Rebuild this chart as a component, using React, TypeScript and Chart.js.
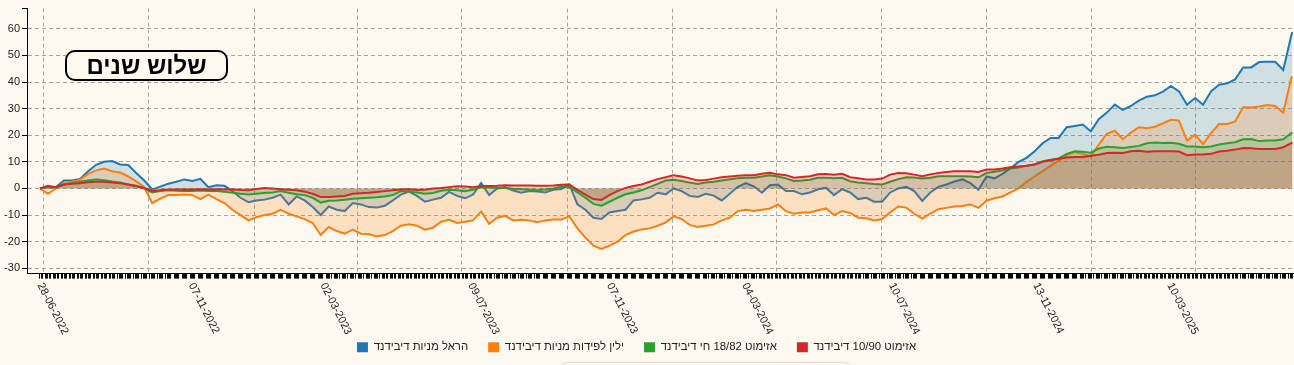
import React, { useEffect, useRef } from "react";
import { Chart, registerables } from "chart.js";

Chart.register(...registerables);

const startDate = "2022-06-28";

const dates = [
  "2022-06-28", "2022-07-05", "2022-07-12", "2022-07-19", "2022-07-26", "2022-08-02", "2022-08-09", "2022-08-16", "2022-08-23", "2022-08-30",
  "2022-09-06", "2022-09-13", "2022-09-20", "2022-09-27", "2022-10-04", "2022-10-11", "2022-10-18", "2022-10-25", "2022-11-01", "2022-11-08",
  "2022-11-15", "2022-11-22", "2022-11-29", "2022-12-06", "2022-12-13", "2022-12-20", "2022-12-27",
  "2023-01-03", "2023-01-10", "2023-01-17", "2023-01-24", "2023-01-31", "2023-02-07", "2023-02-14", "2023-02-21", "2023-02-28", "2023-03-07",
  "2023-03-14", "2023-03-21", "2023-03-28", "2023-04-04", "2023-04-11", "2023-04-18", "2023-04-25", "2023-05-02", "2023-05-09", "2023-05-16",
  "2023-05-23", "2023-05-30", "2023-06-06", "2023-06-13", "2023-06-20", "2023-06-27", "2023-07-04", "2023-07-11", "2023-07-18", "2023-07-25",
  "2023-08-01", "2023-08-08", "2023-08-15", "2023-08-22", "2023-08-29", "2023-09-05", "2023-09-12", "2023-09-19", "2023-09-26", "2023-10-03",
  "2023-10-10", "2023-10-17", "2023-10-24", "2023-10-31", "2023-11-07", "2023-11-14", "2023-11-21", "2023-11-28", "2023-12-05", "2023-12-12",
  "2023-12-19", "2023-12-26",
  "2024-01-02", "2024-01-09", "2024-01-16", "2024-01-23", "2024-01-30", "2024-02-06", "2024-02-13", "2024-02-20", "2024-02-27", "2024-03-05",
  "2024-03-12", "2024-03-19", "2024-03-26", "2024-04-02", "2024-04-09", "2024-04-16", "2024-04-23", "2024-04-30", "2024-05-07", "2024-05-14",
  "2024-05-21", "2024-05-28", "2024-06-04", "2024-06-11", "2024-06-18", "2024-06-25", "2024-07-02", "2024-07-09", "2024-07-16", "2024-07-23",
  "2024-07-30", "2024-08-06", "2024-08-13", "2024-08-20", "2024-08-27", "2024-09-03", "2024-09-10", "2024-09-17", "2024-09-24", "2024-10-01",
  "2024-10-08", "2024-10-15", "2024-10-22", "2024-10-29", "2024-11-05", "2024-11-12", "2024-11-19", "2024-11-26", "2024-12-03", "2024-12-10",
  "2024-12-17", "2024-12-24", "2024-12-31",
  "2025-01-07", "2025-01-14", "2025-01-21", "2025-01-28", "2025-02-04", "2025-02-11", "2025-02-18", "2025-02-25", "2025-03-04", "2025-03-11",
  "2025-03-18", "2025-03-25", "2025-04-01", "2025-04-08", "2025-04-15", "2025-04-22", "2025-04-29", "2025-05-06", "2025-05-13", "2025-05-20",
  "2025-05-27", "2025-06-03", "2025-06-10", "2025-06-17", "2025-06-24", "2025-06-25",
];

const harelDividend = [
  0, 0.5, 0.5, 3, 3, 3.6, 6.5, 8.9, 10, 10.3,
  9, 8.8, 5.8, 3, -0.4, 0.7, 1.8, 2.5, 3.4, 2.8,
  3.6, 0.5, 1.2, 1, -1, -3.5, -5.2, -4.5, -4.2, -3.5,
  -2.3, -6, -3, -4.5, -7, -10, -6.8, -8, -8.5, -5.5,
  -6, -7, -7.2, -6.5, -4.5, -2.3, -1.2, -2.8, -5, -4.2,
  -3.5, -1.3, -2.8, -3.7, -2.3, 2, -2.5, 0, 0.4, -0.8,
  -1.6, -1, -1.1, -1.5, -0.5, -0.2, 1.5, -6, -8, -11,
  -11.5, -9, -8.5, -8, -4.5, -4.1, -3.5, -1.6, -2.2, 0,
  -1, -2.8, -3.2, -2, -2.7, -4.5, -2, 0.6, 2, 0.8,
  -1.6, 1.2, 1.5, -1, -1, -2.2, -1.5, -0.3, 0.2, -2.5,
  -0.3, -1.5, -4, -3.5, -5, -5, -1.5, 0, 0.6, -1,
  -4.7, -1.5, 0.6, 1.5, 2.6, 3.4, 2, -0.5, 4.5, 3.8,
  5.5, 7.6, 10, 11.5, 14, 17, 19, 19, 23, 23.5,
  24, 21.5, 26, 28.5, 31.5, 29.5, 31, 33, 34.5, 35,
  36.4, 38.5, 36.5, 31.5, 34, 31.5, 36.5, 39, 39.5, 41,
  45.5, 45.5, 47.5, 47.6, 47.6, 44.5, 57.5, 58.8,
];

const yelinDividend = [
  0, -2, 0, 2, 2.5, 3.3, 5.5, 6.8, 7.5, 6.5,
  6, 4.5, 2.7, 0.5, -5.5, -3.8, -2.5, -2.5, -2.3, -2.5,
  -4, -2.3, -4, -5.5, -8, -10, -12, -10.8, -10, -9.5,
  -8, -9.5, -10.5, -11.5, -13, -17.5, -14.5, -16, -17, -15.5,
  -17, -17.2, -18, -17.5, -16, -14, -13.5, -14, -15.5, -14.8,
  -12.5, -11.8, -13, -12.5, -12, -8.7, -13.3, -11, -10.3, -12,
  -11.8, -12, -12.7, -12, -11.7, -11.7, -10.5, -15, -18.5, -21.5,
  -22.7, -21.5, -20, -17.5, -16.2, -15.4, -15, -14, -12.8, -10.5,
  -11.5, -13.7, -14.5, -14, -13.5, -12, -11, -8.5, -8, -8.5,
  -8, -7.5, -6, -8.5, -9.5, -9, -9, -8.2, -7.5, -10,
  -8.5, -9.2, -11, -11.2, -12, -11.5, -9, -6.8, -7.2, -9.5,
  -11.3, -9.5, -7.8, -7.3, -6.8, -6.6, -6, -7.3, -4.6, -3.7,
  -3, -1.5, 0, 2.5, 4.5, 6.5, 8.5, 10.5, 12.5, 13.8,
  13, 12, 16.5, 20.5, 21.7, 18.5, 21, 23, 22.6, 23.2,
  24.5, 25.8, 25.5, 18, 20.2, 16.7, 20.8, 24.2, 24.2, 25.2,
  30.5, 30.4, 30.8, 31.4, 31, 28.5, 41.5, 42,
];

const azimut1882 = [
  0, 0.5, 0.5, 1.5, 2, 2.5, 3, 3.4, 3.1, 2.6,
  2.2, 1.5, 1, 0, -1.5, -1, -0.7, -0.9, -1, -1,
  -0.8, -1, -1, -1.2, -1.6, -2, -2.3, -2, -1.7, -1.5,
  -1, -1.6, -2.2, -2.5, -3.5, -5.3, -4.6, -4.5, -4.2, -3.9,
  -3.7, -3.5, -3.3, -3, -2.5, -1, -1.2, -1.5, -2, -1.7,
  -0.9, -0.5, -0.7, -1, -0.5, 0.4, 0.5, 0.3, 0.2, -0.1,
  -0.3, -0.5, -0.7, -0.4, 0, 0.6, 0.7, -1.5, -3.5, -5.8,
  -6.5, -5, -3.5, -2.2, -1.5, -0.7, 0.5, 1.7, 3, 3.3,
  2.8, 2.2, 1.7, 2.2, 2.5, 3, 3.5, 3.8, 4, 4,
  4.5, 5, 4.5, 3.8, 2.8, 3, 3.3, 4, 4, 3.8,
  4, 2.7, 2.2, 2, 1.7, 1.5, 2.5, 3.5, 4.2, 4.1,
  3.7, 4, 4.6, 4.6, 4.6, 4.6, 4.5, 4.2, 5.8, 6.3,
  6.8, 7.5, 7.9, 8.5, 9, 10.2, 10.8, 11.3, 13, 14,
  13.8, 13.4, 15, 15.7, 15.5, 15.2, 15.6, 16, 17, 17.3,
  17.1, 17.2, 16.8, 15.8, 15.8, 15.5, 15.8, 16.5, 17, 17.4,
  18.5, 18.6, 17.8, 18, 18, 18.5, 20.8, 21,
];

const azimut1090 = [
  0, 1, 0.5, 1.5, 1.8, 2, 2.3, 2.5, 2.5, 2.2,
  2, 1.5, 0.8, 0.2, -1, -0.7, -0.5, -0.4, -0.4, -0.4,
  -0.3, -0.4, -0.3, -0.4, -0.4, -0.6, -0.7, -0.2, 0.2, 0,
  -0.3, -0.5, -0.7, -1.2, -2, -3.2, -3.2, -3, -2.8, -2,
  -1.8, -1.6, -1.3, -1, -0.7, -0.4, -0.3, -0.6, -0.5, 0,
  0.2, 0.5, 0.8, 0.7, 0.5, 0.9, 0.9, 1, 1.2, 1.1,
  1.1, 1.1, 1, 1, 1.1, 1.4, 1.5, -0.5, -2.3, -4,
  -4.3, -2.5, -1, 0.2, 0.9, 1.5, 2.5, 3.5, 4.2, 5,
  4.5, 3.8, 3, 3.2, 3.7, 4.2, 4.5, 4.8, 5, 5,
  5.5, 5.9, 5.3, 5, 4, 4.3, 4.6, 5.3, 5.4, 5.2,
  5.5, 4.2, 3.8, 3.4, 3.4, 3.7, 5.2, 5.8, 5.7, 5.2,
  4.6, 5.3, 5.8, 6.2, 6.5, 6.5, 6.5, 6.2, 7.1, 7.1,
  7.5, 8, 8.3, 8.5, 9, 10, 10.6, 11.2, 11.6, 11.8,
  11.8, 12.3, 12.7, 13.3, 13.4, 13.3, 14, 14.2, 13.8, 14,
  14, 14, 13.9, 12.5, 12.8, 12.8, 13, 13.9, 14.2, 14.6,
  15.2, 15.1, 14.8, 14.8, 14.8, 15.5, 17, 17.2,
];

const seriesLabels = [
  "הראל מניות דיבידנד",
  "ילין לפידות מניות דיבידנד",
  "אזימוט 18/82 חי דיבידנד",
  "אזימוט 10/90 דיבידנד",
];

const xTickLabels = [
  "28-06-2022", "07-11-2022", "02-03-2023", "09-07-2023", "07-11-2023",
  "04-03-2024", "10-07-2024", "13-11-2024", "10-03-2025",
];

const quarterGridDates = [
  "2022-07-01", "2022-10-01", "2023-01-01", "2023-04-01", "2023-07-01", "2023-10-01",
  "2024-01-01", "2024-04-01", "2024-07-01", "2024-10-01", "2025-01-01", "2025-04-01",
];

const yTickValues = [-30, -20, -10, 0, 10, 20, 30, 40, 50, 60];

const titleText = "שלוש שנים";

const lineColors = ["#1f77b4", "#ff7f0e", "#2ca02c", "#d62728"];
const areaColors = [
  "rgba(31,119,180,0.2)",
  "rgba(255,127,14,0.2)",
  "rgba(44,160,44,0.2)",
  "rgba(214,39,40,0.2)",
];

const BG = "#fdf9ee";
const DAY_MS = 86400000;
const START_MS = Date.parse(startDate + "T00:00:00Z");
const toDay = (iso: string) => Math.round((Date.parse(iso + "T00:00:00Z") - START_MS) / DAY_MS);
const dmyToDay = (dmy: string) => {
  const [d, m, y] = dmy.split("-");
  return toDay(`${y}-${m}-${d}`);
};

const X_MIN = -11.3;
const X_MAX = 1093.5;
const Y_MIN = -32;
const Y_MAX = 67.6;

const FONT = '"Liberation Sans", Arial, "DejaVu Sans", sans-serif';
// Right-to-left embedding so mixed Hebrew/number labels read as in the original
const rtlText = (s: string) => "\u202B" + s + "\u202C";

const xLabelPlugin = {
  id: "rotatedXLabels",
  afterDraw(chart: any) {
    const sc = chart.scales.x;
    const ctx = chart.ctx;
    ctx.save();
    ctx.font = `11px ${FONT}`;
    ctx.fillStyle = "#222";
    ctx.textAlign = "left";
    ctx.textBaseline = "middle";
    xTickLabels.forEach((lbl) => {
      const px = sc.getPixelForValue(dmyToDay(lbl));
      ctx.save();
      ctx.translate(px, sc.top + 10);
      ctx.rotate((63 * Math.PI) / 180);
      ctx.fillText(lbl, 0, 0);
      ctx.restore();
    });
    ctx.restore();
  },
};

// Nudge the centred legend slightly left, as in the original
const legendShiftPlugin = {
  id: "legendShift",
  afterLayout(chart: any) {
    if (chart.legend) chart.legend.left -= 20;
  },
};

export default function App() {
  const canvasRef = useRef<HTMLCanvasElement | null>(null);

  useEffect(() => {
    document.body.style.margin = "0";
    document.body.style.background = BG;
    const canvas = canvasRef.current;
    if (!canvas) return;

    const series = [harelDividend, yelinDividend, azimut1882, azimut1090];
    const xs = dates.map(toDay);
    const lastDay = xs[xs.length - 1];

    const chart = new Chart(canvas, {
      type: "line",
      data: {
        datasets: series.map((vals, i) => ({
          label: seriesLabels[i],
          data: vals.map((v, j) => ({ x: xs[j], y: v })),
          borderColor: lineColors[i],
          backgroundColor: areaColors[i],
          borderWidth: 2,
          pointRadius: 0,
          tension: 0,
          fill: "origin",
          order: 4 - i,
        })),
      },
      options: {
        animation: false,
        responsive: false,
        events: [],
        layout: { padding: { top: 7, right: 1, bottom: 2, left: 0 } },
        font: { family: FONT },
        scales: {
          x: {
            type: "linear",
            min: X_MIN,
            max: X_MAX,
            afterBuildTicks: (scale: any) => {
              const t: any[] = [];
              for (let d = 0; d <= lastDay; d++) {
                const dow = new Date(START_MS + d * DAY_MS).getUTCDay();
                if (dow !== 5 && dow !== 6) t.push({ value: d });
              }
              quarterGridDates.forEach((q) => t.push({ value: toDay(q), grid: true }));
              t.sort((a, b) => a.value - b.value);
              scale.ticks = t;
            },
            afterFit: (scale: any) => {
              scale.height = 48;
            },
            ticks: { display: false },
            grid: {
              color: (c: any) => (c.tick && c.tick.grid ? "#a3a3a3" : "rgba(0,0,0,0)"),
              tickColor: (c: any) => (c.tick && c.tick.grid ? "rgba(0,0,0,0)" : "#000"),
              tickLength: 5,
              lineWidth: 1,
            },
            border: { display: true, color: "#000", width: 1, dash: [4, 3] },
          },
          y: {
            type: "linear",
            min: Y_MIN,
            max: Y_MAX,
            afterBuildTicks: (scale: any) => {
              scale.ticks = [...yTickValues, Y_MAX].map((v) => ({ value: v }));
            },
            afterFit: (scale: any) => {
              scale.width = 27;
            },
            ticks: {
              padding: 2,
              color: "#222",
              font: { size: 11, family: FONT },
              callback: (v: any) => (v > 65 ? "" : String(v)),
            },
            grid: {
              color: (c: any) => (c.tick && c.tick.value > 65 ? "rgba(0,0,0,0)" : "#a3a3a3"),
              tickColor: "#000",
              tickLength: 5,
              lineWidth: 1,
            },
            border: { display: true, color: "#000", width: 1, dash: [4, 3] },
          },
        },
        plugins: {
          tooltip: { enabled: false },
          legend: {
            position: "bottom",
            align: "center",
            labels: {
              boxWidth: 11,
              boxHeight: 10,
              padding: 20,
              color: "#222",
              font: { size: 11.4, family: FONT },
              generateLabels: (ch: any) =>
                ch.data.datasets.map((ds: any, i: number) => ({
                  text: rtlText(ds.label),
                  fillStyle: ds.borderColor,
                  strokeStyle: ds.borderColor,
                  lineWidth: 0,
                  hidden: false,
                  datasetIndex: i,
                  fontColor: "#222",
                })),
            },
          },
        },
      },
      plugins: [xLabelPlugin, legendShiftPlugin],
    } as any);

    return () => chart.destroy();
  }, []);

  return (
    <div
      style={{
        position: "absolute",
        left: 0,
        top: 0,
        width: 1294,
        height: 365,
        overflow: "hidden",
        background: BG,
      }}
    >
      <canvas ref={canvasRef} width={1294} height={365} style={{ display: "block" }} />
      <div
        style={{
          position: "absolute",
          left: 65,
          top: 50,
          width: 163,
          height: 31,
          boxSizing: "border-box",
          border: "2px solid #000",
          borderRadius: 10,
          background: BG,
          display: "flex",
          alignItems: "center",
          justifyContent: "center",
          fontFamily: FONT,
          fontWeight: "bold",
          fontSize: 24,
          lineHeight: "27px",
          color: "#000",
          direction: "rtl",
        }}
      >
        {titleText}
      </div>
      <div
        style={{
          position: "absolute",
          left: 560,
          top: 362,
          width: 292,
          height: 30,
          boxSizing: "border-box",
          border: "1px solid #e2dbcc",
          borderRadius: 8,
          background: "#fffcf4",
        }}
      />
    </div>
  );
}
